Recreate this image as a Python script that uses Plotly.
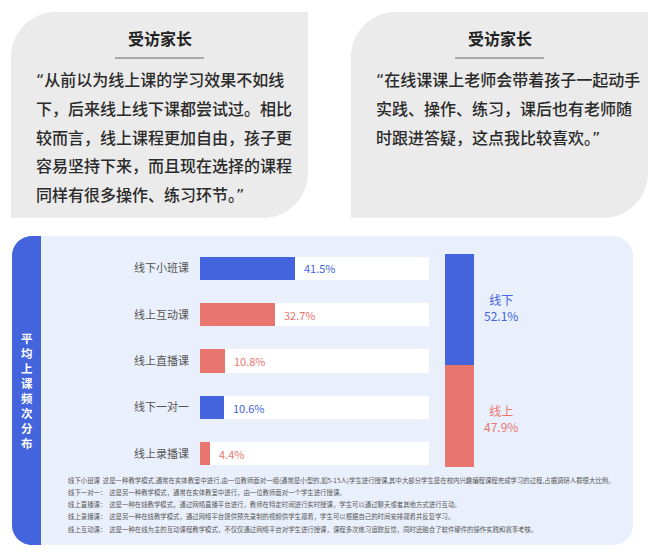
import plotly.graph_objects as go

W, H = 660, 555
FONT = "Noto Sans CJK SC"
BLUE = "#4364DD"
RED = "#E8766F"

# ---------------- data ----------------
CATEGORIES = ["线下小班课", "线上互动课", "线上直播课", "线下一对一", "线上录播课"]
VALUES = [41.5, 32.7, 10.8, 10.6, 4.4]
MODES = ["线下", "线上", "线上", "线下", "线上"]
TRACK = [100, 100, 100, 100, 100]
SHARE_LABELS = ["线下", "线上"]
SHARE_VALUES = [52.1, 47.9]

TITLE = "受访家长"
QUOTE_LEFT = ["“从前以为线上课的学习效果不如线",
              "下，后来线上线下课都尝试过。相比",
              "较而言，线上课程更加自由，孩子更",
              "容易坚持下来，而且现在选择的课程",
              "同样有很多操作、练习环节。”"]
QUOTE_RIGHT = ["“在线课课上老师会带着孩子一起动手",
               "实践、操作、练习，课后也有老师随",
               "时跟进答疑，这点我比较喜欢。”"]
PANEL_TITLE = "平均上课频次分布"
NOTES = [
    "线下小班课  这是一种教学模式,通常在实体教室中进行,由一位教师面对一组(通常是小型的,如5-15人)学生进行授课,其中大部分学生是在校内兴趣编程课程完成学习的过程,占据调研人群很大比例。",
    "线下一对一：  这是另一种教学模式，通常在实体教室中进行，由一位教师面对一个学生进行授课。",
    "线上直播课：  这是一种在线教学模式，通过网络直播平台进行，教师在特定时间进行实时授课，学生可以通过聊天或者其他方式进行互动。",
    "线上录播课：  这是另一种在线教学模式，通过网络平台提供预先录制的视频供学生观看，学生可以根据自己的时间安排观看并反复学习。",
    "线上互动课：  这是一种在线为主的互动课程教学模式，不仅仅通过网络平台对学生进行授课，课程多次练习追踪反馈，同时还融合了软件硬件的操作实践和赛事考核。",
]

MODE_COLOR = {"线下": BLUE, "线上": RED}


def px(x):
    return x / W


def py(y):
    return 1 - y / H


def rrect(x0, y0, x1, y1, tl, tr, br, bl):
    k = 0.5523

    def P(x, y):
        return f"{px(x):.5f},{py(y):.5f}"

    s = f"M {P(x0 + tl, y0)} L {P(x1 - tr, y0)} "
    s += f"C {P(x1 - tr + k * tr, y0)} {P(x1, y0 + tr - k * tr)} {P(x1, y0 + tr)} "
    s += f"L {P(x1, y1 - br)} "
    s += f"C {P(x1, y1 - br + k * br)} {P(x1 - br + k * br, y1)} {P(x1 - br, y1)} "
    s += f"L {P(x0 + bl, y1)} "
    s += f"C {P(x0 + bl - k * bl, y1)} {P(x0, y1 - bl + k * bl)} {P(x0, y1 - bl)} "
    s += f"L {P(x0, y0 + tl)} "
    s += f"C {P(x0, y0 + tl - k * tl)} {P(x0 + tl - k * tl, y0)} {P(x0 + tl, y0)} Z"
    return s


def quote_fix(line):
    # narrow (Latin-style) curly quotes as in the reference
    line = line.replace("“", '<span style="font-family:DejaVu Sans">“</span>')
    line = line.replace("”", '<span style="font-family:DejaVu Sans">”</span>')
    return line


shapes = []
annotations = []

# quote boxes
for (bx0, bx1, lines) in [(11, 308, QUOTE_LEFT), (351, 648, QUOTE_RIGHT)]:
    shapes.append(dict(type="path", xref="paper", yref="paper", layer="below",
                       path=rrect(bx0, 12, bx1, 218, 45, 0, 45, 0),
                       fillcolor="#EBEBEB", line=dict(width=0)))
    cx = bx0 + 149
    annotations.append(dict(xref="paper", yref="paper", x=px(cx), y=py(38),
                            text=f"<b>{TITLE}</b>", showarrow=False,
                            xanchor="center", yanchor="middle",
                            font=dict(family=FONT, size=16, color="#222222")))
    shapes.append(dict(type="line", xref="paper", yref="paper",
                       x0=px(cx - 45), x1=px(cx + 44), y0=py(58), y1=py(58),
                       line=dict(color="#666666", width=1)))
    for i, ln in enumerate(lines):
        annotations.append(dict(xref="paper", yref="paper", x=px(bx0 + 23), y=py(79 + i * 28.8),
                                text=quote_fix(ln), showarrow=False, xanchor="left", yanchor="middle",
                                font=dict(family=FONT, size=16, color="#2A2A2A", weight=500)))

# main panel
shapes.append(dict(type="path", xref="paper", yref="paper", layer="below",
                   path=rrect(12, 236, 633, 545, 20, 20, 20, 20),
                   fillcolor="#EAF0FB", line=dict(width=0)))
shapes.append(dict(type="path", xref="paper", yref="paper", layer="below",
                   path=rrect(12, 236, 41, 545, 20, 0, 0, 20),
                   fillcolor=BLUE, line=dict(width=0)))
annotations.append(dict(xref="paper", yref="paper", x=px(26.5), y=py(390.5),
                        text="<b>" + "<br>".join(PANEL_TITLE) + "</b>", showarrow=False,
                        xanchor="center", yanchor="middle", align="center",
                        font=dict(family=FONT, size=11.5, color="white")))

colors = [MODE_COLOR[m] for m in MODES]

fig = go.Figure()
fig.add_trace(go.Bar(y=CATEGORIES, x=TRACK, orientation="h", width=0.5,
                     marker=dict(color="white", line=dict(width=0)),
                     hoverinfo="skip", xaxis="x", yaxis="y"))
fig.add_trace(go.Bar(y=CATEGORIES, x=VALUES, orientation="h", width=0.5,
                     marker=dict(color=colors, line=dict(width=0)),
                     xaxis="x", yaxis="y"))
for c, v, col in zip(CATEGORIES, VALUES, colors):
    annotations.append(dict(xref="x", yref="y", x=v, y=c, text=f"{v}%", showarrow=False,
                            xanchor="left", yanchor="middle", xshift=7,
                            font=dict(family=FONT, size=11, color=col)))

# stacked share bar (线上 at bottom, 线下 on top)
offline, online = SHARE_VALUES[0], SHARE_VALUES[1]
fig.add_trace(go.Bar(x=["合计"], y=[online], base=[0], width=1,
                     marker=dict(color=MODE_COLOR[SHARE_LABELS[1]], line=dict(width=0)),
                     xaxis="x2", yaxis="y2"))
fig.add_trace(go.Bar(x=["合计"], y=[offline], base=[online], width=1,
                     marker=dict(color=MODE_COLOR[SHARE_LABELS[0]], line=dict(width=0)),
                     xaxis="x2", yaxis="y2"))
for lab, val, mid, ys in [(SHARE_LABELS[0], offline, online + offline / 2, 2),
                          (SHARE_LABELS[1], online, online / 2, -3)]:
    annotations.append(dict(xref="x2", yref="y2", x=0, y=mid, text=f"{lab}<br>{val}%",
                            showarrow=False, xanchor="center", yanchor="middle",
                            xshift=42, yshift=ys,
                            font=dict(family=FONT, size=12, color=MODE_COLOR[lab])))

for i, t in enumerate(NOTES):
    annotations.append(dict(xref="paper", yref="paper", x=px(66), y=py(480 + i * 12.3),
                            text=t, showarrow=False, xanchor="left", yanchor="middle",
                            font=dict(family=FONT, size=6.4, color="#555555")))

fig.update_layout(
    width=W, height=H, margin=dict(l=0, r=0, t=0, b=0),
    paper_bgcolor="white", plot_bgcolor="rgba(0,0,0,0)",
    barmode="overlay", showlegend=False, bargap=0,
    font=dict(family=FONT),
    xaxis=dict(domain=[px(200), px(429)], range=[0, 100], visible=False, fixedrange=True),
    yaxis=dict(domain=[py(477.2), py(245.3)], type="category", categoryorder="array",
               categoryarray=CATEGORIES, range=[4.5, -0.5], showgrid=False, zeroline=False,
               showline=False, ticks="", ticklabelstandoff=10,
               tickfont=dict(family=FONT, size=11, color="#555555"), anchor="x"),
    xaxis2=dict(domain=[px(445), px(474)], range=[-0.5, 0.5], visible=False, anchor="y2"),
    yaxis2=dict(domain=[py(467), py(254)], range=[0, 100], visible=False, anchor="x2"),
    shapes=shapes, annotations=annotations,
)

fig.write_html("out.html", config={"displayModeBar": False},
               post_script="document.body.style.margin='0';document.body.style.padding='0';")
